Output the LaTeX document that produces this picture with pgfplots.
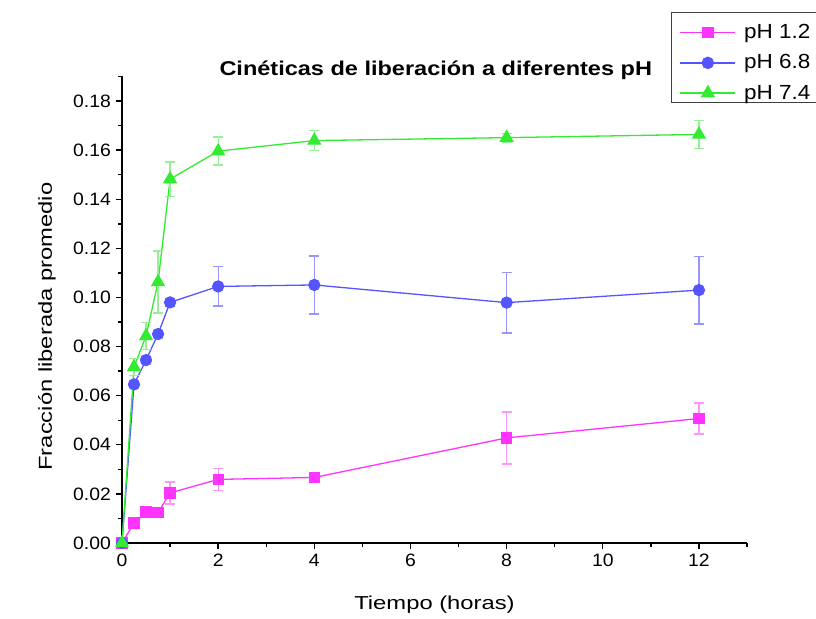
\documentclass[border=0pt]{standalone}
\usepackage{pgfplots}
\pgfplotsset{compat=1.18}
\usepackage{fontspec}
\setmainfont{Liberation Sans}
\newfontfamily\tickfont{Liberation Sans}[FakeStretch=1.08]
\newfontfamily\labfont{Liberation Sans}[FakeStretch=1.27]
\newfontfamily\titfont{Liberation Sans}[FakeStretch=1.18]
\newfontfamily\legfont{Liberation Sans}[FakeStretch=1.1]
\definecolor{cpink}{RGB}{255,51,255}
\definecolor{cblue}{RGB}{85,85,255}
\definecolor{cgreen}{RGB}{51,235,51}
\definecolor{epink}{RGB}{255,150,255}
\definecolor{eblue}{RGB}{150,150,255}
\definecolor{egreen}{RGB}{150,240,150}
\begin{document}
\begin{tikzpicture}
\path[use as bounding box] (-122bp,-76bp) rectangle (694bp,543bp);
\begin{axis}[
  at={(0,0)}, anchor=south west,
  scale only axis, width=625bp, height=466.5bp,
  xmin=0, xmax=13, ymin=0, ymax=0.19,
  axis lines=left, axis line style={-, line width=1.6bp},
  tick align=outside, tick style={black, line width=1.4bp},
  major tick length=6bp, minor tick length=4bp,
  xtick={0,2,4,6,8,10,12}, minor xtick={1,3,5,7,9,11,13},
  ytick={0,0.02,...,0.18}, minor ytick={0.01,0.03,...,0.19},
  /pgf/number format/assume math mode=true,
  ticklabel style={font=\tickfont\fontsize{18}{18}\selectfont},
  xticklabel style={inner ysep=5bp},
  yticklabel style={inner xsep=5bp, /pgf/number format/.cd, fixed, fixed zerofill, precision=2},
  clip=false,
  legend style={at={(549bp,531bp)}, anchor=north west, draw=black!75, line width=1.2bp,
    font=\legfont\fontsize{20.5}{20.5}\selectfont, row sep=7.3bp, inner xsep=8bp, inner ysep=3bp,
    nodes={inner xsep=4bp, inner ysep=0bp, text height=23bp, text depth=0bp},
    /tikz/every odd column/.append style={column sep=4bp}},
  legend cell align=left,
  legend style={cells={anchor=base west}},
  legend image code/.code={\draw[#1, line width=1.5bp, mark repeat=2, mark phase=2] plot coordinates {(0bp,6bp)(27.5bp,6bp)(55bp,6bp)};},
]
\addplot[cpink, line width=1.3bp, mark=square*, mark size=5bp, mark options={solid},
  error bars/.cd, y dir=both, y explicit,
  error bar style={epink, line width=1.3bp},
  error mark options={rotate=90, epink, mark size=5bp, line width=1.3bp}]
  coordinates {
  (0,0) +- (0,0)
  (0.25,0.0081) +- (0,0.0008)
  (0.5,0.0126) +- (0,0.0008)
  (0.75,0.0124) +- (0,0.0015)
  (1,0.0204) +- (0,0.0045)
  (2,0.0259) +- (0,0.0045)
  (4,0.0267) +- (0,0.001)
  (8,0.0428) +- (0,0.0106)
  (12,0.0507) +- (0,0.0063)
  };
\addlegendentry{pH 1.2}
\addplot[cblue, line width=1.3bp, mark=*, mark size=5.5bp, mark options={solid},
  error bars/.cd, y dir=both, y explicit,
  error bar style={eblue, line width=1.3bp},
  error mark options={rotate=90, eblue, mark size=5bp, line width=1.3bp}]
  coordinates {
  (0,0) +- (0,0)
  (0.25,0.0646) +- (0,0.0012)
  (0.5,0.0745) +- (0,0.0012)
  (0.75,0.0851) +- (0,0.0012)
  (1,0.0980) +- (0,0.0016)
  (2,0.1045) +- (0,0.0080)
  (4,0.1051) +- (0,0.0118)
  (8,0.0979) +- (0,0.0124)
  (12,0.1030) +- (0,0.0138)
  };
\addlegendentry{pH 6.8}
\addplot[cgreen, line width=1.3bp, mark=triangle*, mark size=7bp, mark options={solid},
  error bars/.cd, y dir=both, y explicit,
  error bar style={egreen, line width=1.3bp},
  error mark options={rotate=90, egreen, mark size=5bp, line width=1.3bp}]
  coordinates {
  (0,0) +- (0,0)
  (0.25,0.0717) +- (0,0.0035)
  (0.5,0.0843) +- (0,0.0055)
  (0.75,0.1063) +- (0,0.0126)
  (1,0.1482) +- (0,0.0070)
  (2,0.1596) +- (0,0.0057)
  (4,0.1639) +- (0,0.0040)
  (8,0.1651) +- (0,0.0018)
  (12,0.1664) +- (0,0.0057)
  };
\addlegendentry{pH 7.4}
\node[font=\titfont\fontsize{20}{20}\selectfont\bfseries, anchor=base, yshift=0.5bp] at (axis description cs:0.502,1) {Cinéticas de liberación a diferentes pH};
\node[font=\labfont\fontsize{18.8}{18.8}\selectfont, anchor=base, yshift=-66bp] at (axis description cs:0.5,0) {Tiempo (horas)};
\node[font=\labfont\fontsize{18.8}{18.8}\selectfont, anchor=base, xshift=-70bp, rotate=90] at (axis description cs:0,0.464) {Fracción liberada promedio};
\end{axis}
\end{tikzpicture}
\end{document}
